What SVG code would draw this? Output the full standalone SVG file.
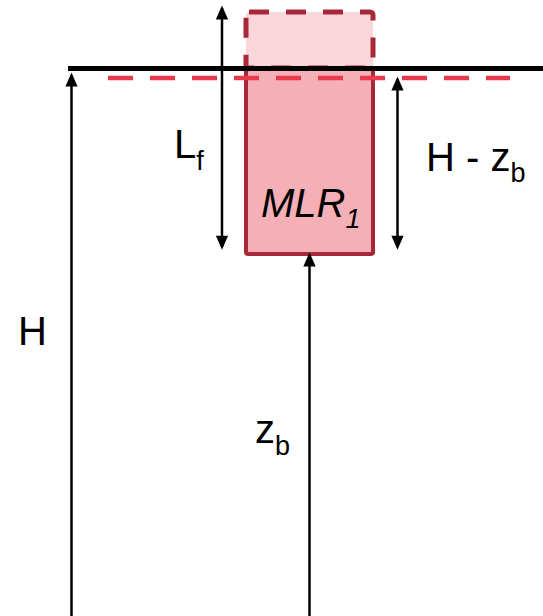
<svg xmlns="http://www.w3.org/2000/svg" width="543" height="616" viewBox="0 0 543 616">
<defs>
<style>
.lbl{font-family:"Liberation Sans","Open Sans",sans-serif;font-size:40px;fill:#000}
.sub{font-size:27px}
.arr{stroke:#000;stroke-width:2.5;fill:none}
</style>
<marker id="ah" viewBox="0 0 14 16" refX="13" refY="7" markerUnits="userSpaceOnUse" markerWidth="16" markerHeight="14" orient="auto-start-reverse">
<path d="M0,0 L16,7 L0,14 Z" fill="#000"/>
</marker>
</defs>
<rect width="543" height="616" fill="#fff"/>
<g id="mlr-projected">
<rect x="246" y="12" width="127" height="56" rx="3" fill="#FAD7DB" stroke="#A8283A" stroke-width="5" stroke-dasharray="20 17"/>
</g>
<g id="mlr1">
<rect x="246" y="68" width="127" height="186" rx="2" fill="#F5AFB6" stroke="#A8283A" stroke-width="4"/>
<text class="lbl" x="261" y="217" font-style="italic">MLR<tspan class="sub" dy="11">1</tspan></text>
</g>
<g id="surface">
<line x1="68" y1="68.5" x2="543" y2="68.5" stroke="#000" stroke-width="5"/>
<line x1="108" y1="78" x2="510" y2="78" stroke="#E83A4C" stroke-width="4.5" stroke-dasharray="25 17"/>
</g>
<g id="connectors">
<line class="arr" x1="71.5" y1="616" x2="71.5" y2="75" marker-end="url(#ah)"/>
<line class="arr" x1="309.5" y1="616" x2="309.5" y2="255" marker-end="url(#ah)"/>
<line class="arr" x1="222" y1="8" x2="222" y2="247" marker-start="url(#ah)" marker-end="url(#ah)"/>
<line class="arr" x1="397.5" y1="79" x2="397.5" y2="247" marker-start="url(#ah)" marker-end="url(#ah)"/>
</g>
<g id="labels">
<text class="lbl" x="174" y="158">L<tspan class="sub" dy="12">f</tspan></text>
<text class="lbl" x="426" y="171">H - z<tspan class="sub" dy="11">b</tspan></text>
<text class="lbl" x="18" y="345" font-size="38">H</text>
<text class="lbl" x="255" y="443" font-size="38">z<tspan class="sub" dy="12">b</tspan></text>
</g>
</svg>
